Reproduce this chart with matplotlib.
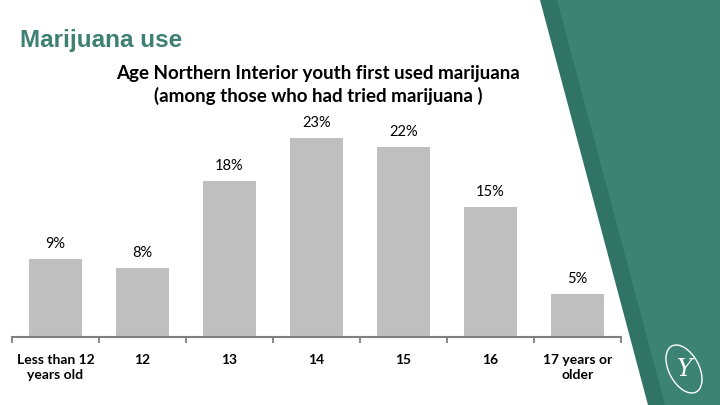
import matplotlib
matplotlib.use("Agg")
import matplotlib.pyplot as plt
from matplotlib.patches import Polygon, Ellipse

categories = ["Less than 12\nyears old", "12", "13", "14", "15", "16", "17 years or\nolder"]
values = [9, 8, 18, 23, 22, 15, 5]
value_labels = ["9%", "8%", "18%", "23%", "22%", "15%", "5%"]

page_title = "Marijuana use"
chart_title = "Age Northern Interior youth first used marijuana\n(among those who had tried marijuana )"

fig = plt.figure(figsize=(7.2, 4.05), dpi=100)
fig.patch.set_facecolor("white")

# Decorative green band on the right (figure pixel coordinates)
W, H = 720, 405
bg = fig.add_axes([0, 0, 1, 1])
bg.set_xlim(0, W)
bg.set_ylim(H, 0)
bg.axis("off")
bg.add_patch(Polygon([(540, 0), (720, 0), (720, 405), (648, 405)],
                     closed=True, facecolor="#2f7465", edgecolor="none"))
bg.add_patch(Polygon([(557, 0), (720, 0), (720, 405), (665, 405)],
                     closed=True, facecolor="#3d8374", edgecolor="none"))
bg.add_patch(Ellipse((684, 369), 30, 52, angle=-28, facecolor="none",
                     edgecolor="white", lw=1.0))
bg.text(685, 369, "Y", color="white", fontsize=17, family="DejaVu Serif",
        style="italic", ha="center", va="center")

fig.text(20 / W, 1 - 40 / H, page_title, color="#3e8073", fontsize=17.5,
         fontweight="bold", family="Liberation Sans", ha="left", va="center")
fig.text(318 / W, 1 - 85 / H, chart_title, color="black", fontsize=13.5,
         fontweight="bold", family="Lato", ha="center", va="center",
         linespacing=1.3)

ax = fig.add_axes([12 / W, 1 - 337 / H, 609 / W, 216 / H])
ax.set_facecolor("none")
x = list(range(len(values)))
ax.bar(x, values, width=0.61, color="#bfbfbf", edgecolor="none")
ax.set_xlim(-0.5, len(values) - 0.5)
ax.set_ylim(0, 25)

for xi, v, lab in zip(x, values, value_labels):
    ax.annotate(lab, (xi, v), xytext=(0, 15), textcoords="offset pixels",
                ha="center", va="center", fontsize=10.5, family="Lato")

for side in ["left", "right", "top"]:
    ax.spines[side].set_visible(False)
ax.spines["bottom"].set_color("#808080")
ax.spines["bottom"].set_linewidth(1.5)
ax.set_yticks([])
ax.set_xticks([i - 0.5 for i in range(len(values) + 1)], minor=False)
ax.set_xticklabels([])
ax.tick_params(axis="x", which="major", length=4, width=1.3, color="#808080")
ax.set_xticks(x, minor=True)
ax.set_xticklabels(categories, minor=True, fontsize=10, fontweight="bold",
                   family="Lato", linespacing=1.35)
ax.tick_params(axis="x", which="minor", length=0, pad=12)

fig.savefig("out.png", dpi=100, facecolor="white")
